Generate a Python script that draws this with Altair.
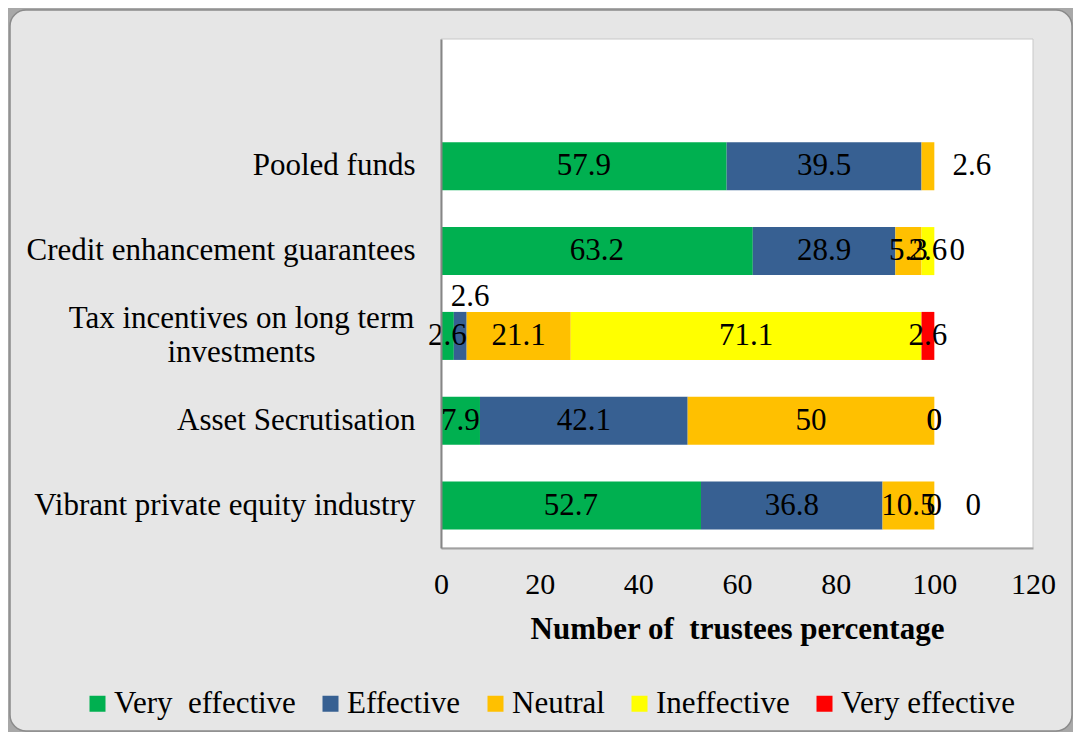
import altair as alt
import pandas as pd

# ---------------- data ----------------
categories = [
    "Pooled funds",
    "Credit enhancement guarantees",
    "Tax incentives on long term\ninvestments",
    "Asset Secrutisation",
    "Vibrant private equity industry",
]
series = ["Very\u00a0 effective", "Effective", "Neutral", "Ineffective", "Very effective"]
very_effective = [57.9, 63.2, 2.6, 7.9, 52.7]
effective = [39.5, 28.9, 2.6, 42.1, 36.8]
neutral = [2.6, 5.3, 21.1, 50, 10.5]
ineffective = [0, 2.6, 71.1, 0, 0]
very_ineffective = [0, 0, 2.6, 0, 0]
x_ticks = [0, 20, 40, 60, 80, 100, 120]

# ---------------- styles ----------------
colors = ["#00B050", "#376092", "#FFC000", "#FFFF00", "#FF0000"]
FONT = "Liberation Serif"
# labels that Excel did not show: (category index, series index)
hidden_labels = [(0, 3), (0, 4)]
# labels moved by hand in the original: (category index, series index) -> (dx, dy) in px
label_nudges = {(0, 2): (44, 0), (1, 4): (23, 0), (4, 4): (39, 0), (2, 1): (10, -39)}

values_by_series = [very_effective, effective, neutral, ineffective, very_ineffective]
rows = []
for si, (s, vals) in enumerate(zip(series, values_by_series)):
    for ci, (c, v) in enumerate(zip(categories, vals)):
        rows.append({
            "category": c, "series": s, "s_idx": si, "value": v,
            "label": f"{v:g}", "key": f"{ci}-{si}",
        })
df = pd.DataFrame(rows)

nudged_keys = [f"{c}-{s}" for (c, s) in label_nudges]
hidden_keys = [f"{c}-{s}" for (c, s) in hidden_labels]

y_scale = alt.Scale(domain=[" "] + categories, paddingInner=0.434, paddingOuter=0.217)
x_scale = alt.Scale(domain=[0, 120], nice=False)

base = alt.Chart(df).transform_stack(
    stack="value", groupby=["category"], as_=["x0", "x1"],
    sort=[alt.SortField("s_idx", order="ascending")],
).transform_calculate(mid="(datum.x0 + datum.x1) / 2")

multi_test = "indexof(datum.value, '\\n') >= 0"

bars = base.mark_bar().encode(
    x=alt.X("x0:Q", scale=x_scale,
            axis=alt.Axis(values=x_ticks, grid=False, ticks=False, labelFontSize=30,
                          labelFont=FONT, labelColor="black", labelPadding=21,
                          domainColor="#a0a0a0", domainWidth=2, zindex=1,
                          title="Number of\u00a0 trustees percentage", titleFont=FONT,
                          titleFontSize=31, titleFontWeight="bold", titleColor="black",
                          titlePadding=15, labelFlush=False)),
    x2="x1:Q",
    y=alt.Y("category:N", scale=y_scale,
            axis=alt.Axis(title=None, ticks=False, labelFontSize=31, labelFont=FONT,
                          labelColor="black", labelLimit=600,
                          labelExpr="split(datum.label, '\\n')",
                          labelLineHeight=34,
                          labelAlign={"condition": {"test": multi_test, "value": "center"},
                                      "value": "right"},
                          labelPadding={"condition": {"test": multi_test, "value": 200},
                                        "value": 26},
                          labelOffset={"condition": {"test": multi_test, "value": -17},
                                       "value": 0},
                          domainColor="#868686", domainWidth=2, zindex=1)),
    color=alt.Color("series:N", scale=alt.Scale(domain=series, range=colors),
                    legend=alt.Legend(title=None, orient="none", direction="horizontal",
                                      legendX=-359, legendY=649, columns=5,
                                      symbolType="square", symbolSize=256,
                                      symbolStrokeWidth=0, labelFontSize=31,
                                      labelFont=FONT, labelColor="black", labelOffset=1,
                                      columnPadding=19, labelLimit=400, padding=0,
                                      zindex=1)),
    order=alt.Order("s_idx:Q"),
)

label_enc = dict(
    x=alt.X("mid:Q", scale=x_scale),
    y=alt.Y("category:N", scale=y_scale),
    text="label:N",
)

excluded = nudged_keys + hidden_keys
labels = base.transform_filter(
    "indexof(" + str(excluded).replace('"', "'") + ", datum.key) < 0"
).mark_text(font=FONT, fontSize=31, color="black", baseline="middle").encode(**label_enc)

nudge_layers = []
for (ci, si), (dx, dy) in label_nudges.items():
    k = f"{ci}-{si}"
    nudge_layers.append(
        base.transform_filter(alt.datum.key == k)
        .mark_text(font=FONT, fontSize=31, color="black", baseline="middle", dx=dx, dy=dy)
        .encode(**label_enc)
    )

one = alt.Data(values=[{"a": 1}])
frame = alt.Chart(one).mark_rect(
    fill="#e6e6e6", stroke="#8a8a8a", strokeWidth=1.5, cornerRadius=16
).encode(x=alt.value(-431), x2=alt.value(631), y=alt.value(-29), y2=alt.value(692))

plot_bg = alt.Chart(one).mark_rect(fill="white", stroke="#c8c8c8", strokeWidth=1).encode(
    x=alt.value(0), x2=alt.value("width"), y=alt.value(0), y2=alt.value("height"))

chart = alt.layer(frame, plot_bg, bars, labels, *nudge_layers).properties(
    width=592, height=509,
    autosize=alt.AutoSizeParams(type="none"),
    padding={"left": 433, "top": 31, "right": 40, "bottom": 184},
    background="#a8a8a8",
).configure_view(stroke=None, fill=None).configure(font=FONT)

chart.save("out.html", embed_options={"renderer": "svg", "actions": False})
